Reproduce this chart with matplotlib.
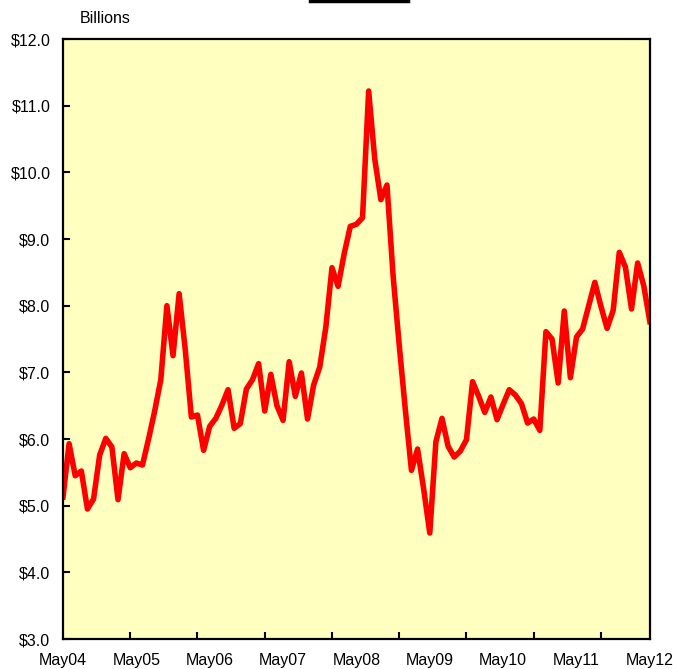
import numpy as np
import matplotlib
matplotlib.use('Agg')
import matplotlib.pyplot as plt
from matplotlib.lines import Line2D
from matplotlib.ticker import FixedLocator, FuncFormatter

plt.rcParams['font.family'] = ['Liberation Sans', 'DejaVu Sans']

# monthly values, May 2004 .. May 2012 (billions of dollars)
values = [
    5.13, 5.93, 5.45, 5.52, 4.95, 5.10, 5.76, 6.01, 5.88, 5.09, 5.78, 5.57,
    5.64, 5.61, 6.00, 6.42, 6.89, 8.00, 7.25, 8.18, 7.34, 6.33, 6.36, 5.83,
    6.19, 6.31, 6.51, 6.74, 6.16, 6.23, 6.75, 6.89, 7.13, 6.42, 6.97, 6.50,
    6.28, 7.16, 6.64, 6.99, 6.30, 6.81, 7.08, 7.68, 8.57, 8.29, 8.78, 9.19,
    9.22, 9.32, 11.22, 10.20, 9.59, 9.81, 8.45, 7.41, 6.44, 5.53, 5.85, 5.25,
    4.59, 5.96, 6.31, 5.89, 5.73, 5.82, 5.99, 6.86, 6.64, 6.40, 6.63, 6.29,
    6.52, 6.74, 6.66, 6.53, 6.24, 6.30, 6.13, 7.61, 7.50, 6.84, 7.92, 6.92,
    7.53, 7.65, 8.00, 8.35, 7.99, 7.66, 7.93, 8.80, 8.58, 7.95, 8.64, 8.30,
    7.76,
]
year_labels = ['May04', 'May05', 'May06', 'May07', 'May08',
               'May09', 'May10', 'May11', 'May12']
y_ticks = [3.0, 4.0, 5.0, 6.0, 7.0, 8.0, 9.0, 10.0, 11.0, 12.0]

months = np.arange(len(values))

fig = plt.figure(figsize=(6.73, 6.69), dpi=100)
ax = fig.add_axes([0.0936, 0.0448, 0.872, 0.8969])
ax.set_facecolor('#FFFFC0')

ax.plot(months, values, color='#FF0000', lw=4.0, solid_joinstyle='round')

ax.set_xlim(0, len(values) - 1)
ax.set_ylim(3, 12)

# labels every 12 months, tick marks every 11 (as in the source)
ax.xaxis.set_major_locator(FixedLocator(np.arange(0, len(values), 12)))
ax.set_xticklabels(year_labels)
ax.xaxis.set_minor_locator(FixedLocator(np.arange(11, len(values) - 1, 11)))
ax.tick_params(axis='x', which='major', length=0, pad=10, labelsize=11.5)
ax.tick_params(axis='x', which='minor', direction='in', length=5, width=1.5)

ax.set_yticks(y_ticks)
ax.yaxis.set_major_formatter(FuncFormatter(lambda v, p: '${:.1f}'.format(v)))
ax.tick_params(axis='y', direction='in', length=5, width=1.5, pad=9,
               labelsize=11.5)

for sp in ax.spines.values():
    sp.set_linewidth(1.6)
    sp.set_color('black')

fig.text(0.119, 0.972, 'Billions', fontsize=11.5, va='center', ha='left')

# cut-off title underline at the top
fig.add_artist(Line2D([0.461, 0.606], [0.998, 0.998], color='black', lw=2.5,
                      transform=fig.transFigure))

fig.savefig('out.png', dpi=100, facecolor='white')
